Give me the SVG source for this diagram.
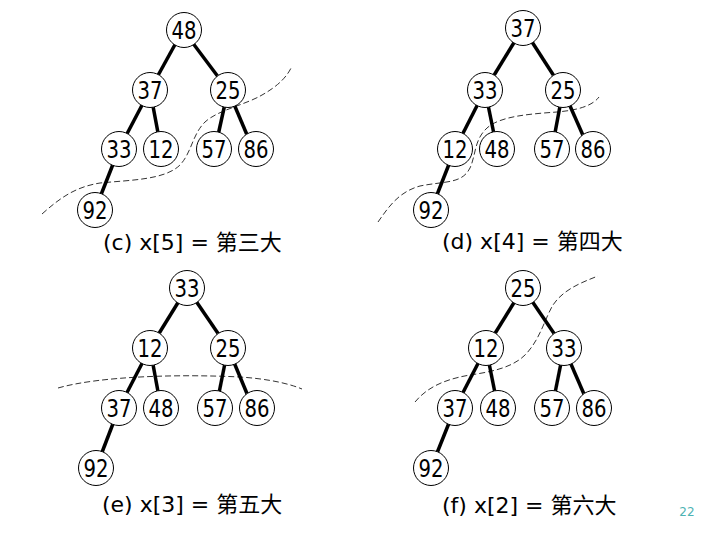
<svg xmlns="http://www.w3.org/2000/svg" width="720" height="540" viewBox="0 0 720 540">
<style>
.e{stroke:#000;stroke-width:3.5;stroke-linecap:butt}
.c{fill:#fff;stroke:#000;stroke-width:1}
.n{font-family:"DejaVu Sans",Verdana,sans-serif;font-size:25px;text-anchor:middle;fill:#000}
.l{font-family:"DejaVu Sans","Noto Sans CJK SC",sans-serif;font-size:22px;fill:#000}
.d{fill:none;stroke:#333;stroke-width:1;stroke-dasharray:6 3}
</style>
<rect width="720" height="540" fill="#fff"/>
<g id="cuts">
<path class="d" d="M42,214 C60,198 75,187 100,183 C130,180 165,180 180,165 C192,152 192,135 205,122 C218,110 245,105 262,95 C280,85 288,75 292,66"/>
<path class="d" d="M378,222 C388,208 398,192 420,186 C445,181 462,184 470,168 C476,155 474,140 487,128 C500,116 530,114 557,112 C580,110 593,105 599,97"/>
<path class="d" d="M58,388 C100,376 180,374 240,377 C270,379 290,384 302,389"/>
<path class="d" d="M415,402 C425,390 440,380 470,375 C490,372 512,368 525,355 C540,340 545,318 553,305 C563,290 580,283 598,276"/>
</g>
<g id="connectors">
<line class="e" x1="183" y1="30" x2="150" y2="90"/><line class="e" x1="183" y1="30" x2="228" y2="90"/>
<line class="e" x1="150" y1="90" x2="119" y2="149"/><line class="e" x1="150" y1="90" x2="161" y2="149"/>
<line class="e" x1="228" y1="90" x2="215" y2="149"/><line class="e" x1="228" y1="90" x2="253" y2="149"/>
<line class="e" x1="119" y1="149" x2="95" y2="210"/>
<line class="e" x1="523" y1="28" x2="485" y2="90"/><line class="e" x1="523" y1="28" x2="563" y2="90"/>
<line class="e" x1="485" y1="90" x2="455" y2="149"/><line class="e" x1="485" y1="90" x2="497" y2="149"/>
<line class="e" x1="563" y1="90" x2="552" y2="149"/><line class="e" x1="563" y1="90" x2="589" y2="149"/>
<line class="e" x1="455" y1="149" x2="431" y2="210"/>
<line class="e" x1="187" y1="288" x2="150" y2="348"/><line class="e" x1="187" y1="288" x2="228" y2="348"/>
<line class="e" x1="150" y1="348" x2="119" y2="408"/><line class="e" x1="150" y1="348" x2="161" y2="408"/>
<line class="e" x1="228" y1="348" x2="216" y2="408"/><line class="e" x1="228" y1="348" x2="253" y2="408"/>
<line class="e" x1="119" y1="408" x2="96" y2="468"/>
<line class="e" x1="523" y1="288" x2="486" y2="348"/><line class="e" x1="523" y1="288" x2="564" y2="348"/>
<line class="e" x1="486" y1="348" x2="455" y2="408"/><line class="e" x1="486" y1="348" x2="498" y2="408"/>
<line class="e" x1="564" y1="348" x2="552" y2="408"/><line class="e" x1="564" y1="348" x2="590" y2="408"/>
<line class="e" x1="455" y1="408" x2="431" y2="468"/>
</g>
<g id="c48"><circle class="c" cx="184" cy="30" r="17.5"/><text class="n" x="184" y="39" textLength="25" lengthAdjust="spacingAndGlyphs">48</text></g>
<g id="c37"><circle class="c" cx="150" cy="90" r="17.5"/><text class="n" x="150" y="99" textLength="25" lengthAdjust="spacingAndGlyphs">37</text></g>
<g id="c25"><circle class="c" cx="228" cy="90" r="17.5"/><text class="n" x="228" y="99" textLength="25" lengthAdjust="spacingAndGlyphs">25</text></g>
<g id="c33"><circle class="c" cx="119" cy="149" r="17.5"/><text class="n" x="119" y="158" textLength="25" lengthAdjust="spacingAndGlyphs">33</text></g>
<g id="c12"><circle class="c" cx="161" cy="149" r="17.5"/><text class="n" x="161" y="158" textLength="25" lengthAdjust="spacingAndGlyphs">12</text></g>
<g id="c57"><circle class="c" cx="214" cy="149" r="17.5"/><text class="n" x="214" y="158" textLength="25" lengthAdjust="spacingAndGlyphs">57</text></g>
<g id="c86"><circle class="c" cx="256" cy="149" r="17.5"/><text class="n" x="256" y="158" textLength="25" lengthAdjust="spacingAndGlyphs">86</text></g>
<g id="c92"><circle class="c" cx="95" cy="210" r="17.5"/><text class="n" x="95" y="219" textLength="25" lengthAdjust="spacingAndGlyphs">92</text></g>
<g id="d37"><circle class="c" cx="523" cy="28" r="17.5"/><text class="n" x="523" y="37" textLength="25" lengthAdjust="spacingAndGlyphs">37</text></g>
<g id="d33"><circle class="c" cx="485" cy="90" r="17.5"/><text class="n" x="485" y="99" textLength="25" lengthAdjust="spacingAndGlyphs">33</text></g>
<g id="d25"><circle class="c" cx="563" cy="90" r="17.5"/><text class="n" x="563" y="99" textLength="25" lengthAdjust="spacingAndGlyphs">25</text></g>
<g id="d12"><circle class="c" cx="455" cy="149" r="17.5"/><text class="n" x="455" y="158" textLength="25" lengthAdjust="spacingAndGlyphs">12</text></g>
<g id="d48"><circle class="c" cx="497" cy="149" r="17.5"/><text class="n" x="497" y="158" textLength="25" lengthAdjust="spacingAndGlyphs">48</text></g>
<g id="d57"><circle class="c" cx="552" cy="149" r="17.5"/><text class="n" x="552" y="158" textLength="25" lengthAdjust="spacingAndGlyphs">57</text></g>
<g id="d86"><circle class="c" cx="593" cy="149" r="17.5"/><text class="n" x="593" y="158" textLength="25" lengthAdjust="spacingAndGlyphs">86</text></g>
<g id="d92"><circle class="c" cx="431" cy="210" r="17.5"/><text class="n" x="431" y="219" textLength="25" lengthAdjust="spacingAndGlyphs">92</text></g>
<g id="e33"><circle class="c" cx="187" cy="288" r="17.5"/><text class="n" x="187" y="297" textLength="25" lengthAdjust="spacingAndGlyphs">33</text></g>
<g id="e12"><circle class="c" cx="150" cy="348" r="17.5"/><text class="n" x="150" y="357" textLength="25" lengthAdjust="spacingAndGlyphs">12</text></g>
<g id="e25"><circle class="c" cx="228" cy="348" r="17.5"/><text class="n" x="228" y="357" textLength="25" lengthAdjust="spacingAndGlyphs">25</text></g>
<g id="e37"><circle class="c" cx="119" cy="408" r="17.5"/><text class="n" x="119" y="417" textLength="25" lengthAdjust="spacingAndGlyphs">37</text></g>
<g id="e48"><circle class="c" cx="161" cy="408" r="17.5"/><text class="n" x="161" y="417" textLength="25" lengthAdjust="spacingAndGlyphs">48</text></g>
<g id="e57"><circle class="c" cx="215" cy="408" r="17.5"/><text class="n" x="215" y="417" textLength="25" lengthAdjust="spacingAndGlyphs">57</text></g>
<g id="e86"><circle class="c" cx="257" cy="408" r="17.5"/><text class="n" x="257" y="417" textLength="25" lengthAdjust="spacingAndGlyphs">86</text></g>
<g id="e92"><circle class="c" cx="96" cy="468" r="17.5"/><text class="n" x="96" y="477" textLength="25" lengthAdjust="spacingAndGlyphs">92</text></g>
<g id="f25"><circle class="c" cx="523" cy="288" r="17.5"/><text class="n" x="523" y="297" textLength="25" lengthAdjust="spacingAndGlyphs">25</text></g>
<g id="f12"><circle class="c" cx="486" cy="348" r="17.5"/><text class="n" x="486" y="357" textLength="25" lengthAdjust="spacingAndGlyphs">12</text></g>
<g id="f33"><circle class="c" cx="564" cy="348" r="17.5"/><text class="n" x="564" y="357" textLength="25" lengthAdjust="spacingAndGlyphs">33</text></g>
<g id="f37"><circle class="c" cx="455" cy="408" r="17.5"/><text class="n" x="455" y="417" textLength="25" lengthAdjust="spacingAndGlyphs">37</text></g>
<g id="f48"><circle class="c" cx="498" cy="408" r="17.5"/><text class="n" x="498" y="417" textLength="25" lengthAdjust="spacingAndGlyphs">48</text></g>
<g id="f57"><circle class="c" cx="552" cy="408" r="17.5"/><text class="n" x="552" y="417" textLength="25" lengthAdjust="spacingAndGlyphs">57</text></g>
<g id="f86"><circle class="c" cx="594" cy="408" r="17.5"/><text class="n" x="594" y="417" textLength="25" lengthAdjust="spacingAndGlyphs">86</text></g>
<g id="f92"><circle class="c" cx="431" cy="468" r="17.5"/><text class="n" x="431" y="477" textLength="25" lengthAdjust="spacingAndGlyphs">92</text></g>
<g id="labels">
<text class="l" x="103" y="250">(c) x[5] = 第三大</text>
<text class="l" x="442" y="249">(d) x[4] = 第四大</text>
<text class="l" x="102" y="512">(e) x[3] = 第五大</text>
<text class="l" x="442" y="513">(f) x[2] = 第六大</text>
<text x="687" y="516" font-family="DejaVu Sans,sans-serif" font-size="12" fill="#4db3b3" text-anchor="middle">22</text>
</g>
</svg>
